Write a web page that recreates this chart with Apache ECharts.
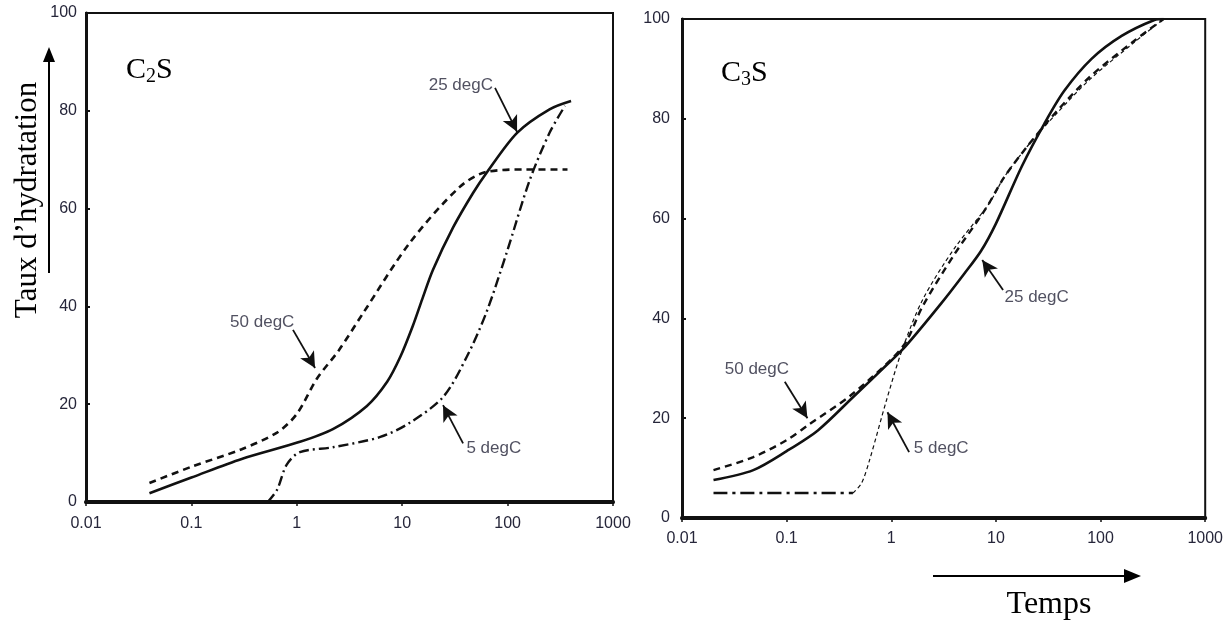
<!DOCTYPE html>
<html>
<head>
<meta charset="utf-8">
<script src="https://cdn.jsdelivr.net/npm/echarts@6/dist/echarts.min.js"></script>
<style>
html,body{margin:0;padding:0;background:#fff;}
#chart{width:1226px;height:623px;}
</style>
</head>
<body>
<div id="chart"></div>
<script>
// ---------- DATA ----------
var xTickLabels = ['0.01','0.1','1','10','100','1000'];
var yTickLabels = ['0','20','40','60','80','100'];

// C2S panel  [time, hydration %]
var c2s25 = [[0.04,1.8],[0.1,5],[0.3,8.8],[1.07,12.3],[2.2,14.9],[4.6,19.6],[7.2,24.6],[9.6,29.7],[12.6,36],[15.5,41.5],[19.6,47.5],[30.5,56.2],[47,63.2],[63,67.3],[123,75.5],[250,80.3],[400,82]];
var c2s50 = [[0.04,3.9],[0.1,7.2],[0.3,10.8],[0.65,14.2],[1,18],[1.55,25.2],[2.5,31],[4.25,38.6],[11.8,53],[35,64.4],[63,67.5],[150,68],[370,68]];
var c2s5  = [[0.53,0],[0.65,2.5],[0.8,7.6],[1.07,10.2],[2.2,11.2],[6.2,13.3],[11.8,16.2],[24.5,21.5],[41,29.7],[63,38.8],[98,51],[162,65.8],[250,75.5],[350,81]];

// C3S panel
var c3s25 = [[0.02,7.6],[0.048,9.6],[0.1,13.4],[0.2,17.6],[0.43,24.2],[0.96,31.2],[1.38,34.5],[3,43],[5,49],[7.2,53.5],[10,59],[17.7,70.5],[29,79],[45,85.6],[82,92],[159,96.6],[327,99.8],[400,100]];
var c3s50 = [[0.02,9.6],[0.048,12.2],[0.1,15.6],[0.16,18.6],[0.4,24.4],[1,31.8],[1.4,35.5],[2,42.5],[4,52.8],[8,62],[12,68.3],[20,74.5],[37,81.2],[80,88.5],[215,95.8],[400,100]];
var c3s5Flat = [[0.02,5],[0.43,5]];
var c3s5Rise = [[0.43,5],[0.52,7],[0.62,11.6],[0.9,23.6],[1.27,33.7],[2,43.8],[4,54],[8.6,63],[12,68.3],[20,74.5],[37,80.8],[80,88],[215,95.5],[400,100]];

// annotations: label, text position, arrow start, arrow end
var c2sNotes = [
  {label:'25 degC', text:[36,85.3], from:[76,84.7], to:[123,75.7]},
  {label:'50 degC', text:[0.47,36.8], from:[0.92,35.2], to:[1.49,27.4]},
  {label:'5 degC', text:[74,11], from:[37.8,12], to:[24.4,19.8]}
];
var c3sNotes = [
  {label:'25 degC', text:[24.5,44.3], from:[11.7,45.7], to:[7.4,51.7]},
  {label:'50 degC', text:[0.052,29.7], from:[0.096,27.3], to:[0.158,20]},
  {label:'5 degC', text:[3.0,14], from:[1.48,13.2], to:[0.92,21.2]}
];

// ---------- CHART ----------
var NARROW = '"Liberation Sans Narrow","Arial Narrow","Liberation Sans",sans-serif';
var SERIF = '"Liberation Serif","Times New Roman",serif';
var chart = echarts.init(document.getElementById('chart'));

function xAxisFor(gi, labelMargin){
  return {
    type:'log', logBase:10, min:0.01, max:1000, gridIndex:gi,
    axisLine:{show:true, onZero:false, lineStyle:{color:'#111', width:3}},
    axisTick:{show:true, inside:false, length:4, lineStyle:{color:'#111', width:1.5}},
    splitLine:{show:false}, minorTick:{show:false},
    axisLabel:{color:'#26263a', fontFamily:NARROW, fontSize:16, margin:labelMargin,
      formatter:function(v){ var i=Math.round(Math.log10(v))+2; return xTickLabels[i]!==undefined?xTickLabels[i]:''; }}
  };
}
function topAxisFor(gi){
  return {
    type:'value', gridIndex:gi, position:'top', min:0, max:1,
    axisLine:{show:true, lineStyle:{color:'#111', width:4}},
    axisTick:{show:false}, axisLabel:{show:false}, splitLine:{show:false}
  };
}
function yAxisFor(gi, labelMargin){
  return {
    type:'value', min:0, max:100, interval:20, gridIndex:gi,
    axisLine:{show:true, lineStyle:{color:'#111', width:3}},
    axisTick:{show:true, inside:true, length:4, lineStyle:{color:'#111', width:2}},
    splitLine:{show:false},
    axisLabel:{color:'#26263a', fontFamily:NARROW, fontSize:16, margin:labelMargin,
      formatter:function(v){ return yTickLabels[Math.round(v/20)]; }}
  };
}
function curve(data, xi, yi, type, width){
  return {
    type:'line', data:data, xAxisIndex:xi, yAxisIndex:yi, symbol:'none',
    smooth:0.3,
    lineStyle:{color:'#111', width:width, type:type}, silent:true, z:3
  };
}
function notes(list, xi, yi){
  return [{
    type:'scatter', xAxisIndex:xi, yAxisIndex:yi, symbolSize:0, silent:true,
    data:list.map(function(n){ return {value:n.text, name:n.label}; }),
    label:{show:true, position:'inside', formatter:'{b}', color:'#26263a', fontFamily:NARROW, fontSize:17},
    markLine:{
      silent:true, symbol:['none','arrow'], symbolSize:[12,16],
      lineStyle:{color:'#111', width:1.8, type:'solid'}, label:{show:false},
      data:list.map(function(n){ return [{coord:n.from},{coord:n.to}]; })
    }
  }];
}

var option = {
  animation:false,
  backgroundColor:'#fff',
  grid:[
    {left:86, top:13, width:527, height:489, show:true, borderColor:'#111', borderWidth:2},
    {left:682, top:19, width:525, height:499, show:true, borderColor:'#111', borderWidth:2}
  ],
  xAxis:[xAxisFor(0,14), xAxisFor(1,13), topAxisFor(0), topAxisFor(1)],
  yAxis:[yAxisFor(0,9), yAxisFor(1,12)],
  series:[].concat(
    [curve(c2s25,0,0,'solid',2.6),
     curve(c2s50,0,0,[7,5],2.6),
     curve(c2s5,0,0,[10,4,2,4],2.4),
     curve(c3s25,1,1,'solid',2.6),
     curve(c3s50,1,1,[7,5],2.4),
     curve(c3s5Flat,1,1,[14,5,3,5],2.6),
     curve(c3s5Rise,1,1,[4,3],1.2)],
    notes(c2sNotes,0,0),
    notes(c3sNotes,1,1)
  ),
  graphic:[
    {type:'text', left:126, top:55, style:{text:'{a|C}{b|2}{a|S}', rich:{
      a:{fontFamily:SERIF, fontSize:30, fill:'#000'},
      b:{fontFamily:SERIF, fontSize:20, fill:'#000', padding:[14,0,0,0]}}}},
    {type:'text', left:721, top:58, style:{text:'{a|C}{b|3}{a|S}', rich:{
      a:{fontFamily:SERIF, fontSize:30, fill:'#000'},
      b:{fontFamily:SERIF, fontSize:20, fill:'#000', padding:[14,0,0,0]}}}},
    {type:'text', x:28, y:200, rotation:Math.PI/2, style:{text:'Taux d\u2019hydratation', fontFamily:SERIF, fontSize:31, fill:'#000', align:'center', verticalAlign:'middle'}},
    {type:'line', shape:{x1:49, y1:273, x2:49, y2:60}, style:{stroke:'#000', lineWidth:2}},
    {type:'polygon', shape:{points:[[43,62],[55,62],[49,47]]}, style:{fill:'#000'}},
    {type:'text', x:1049, y:605, style:{text:'Temps', fontFamily:SERIF, fontSize:32, fill:'#000', align:'center', verticalAlign:'middle'}},
    {type:'line', shape:{x1:933, y1:576, x2:1126, y2:576}, style:{stroke:'#000', lineWidth:2}},
    {type:'polygon', shape:{points:[[1124,569],[1124,583],[1141,576]]}, style:{fill:'#000'}}
  ]
};
chart.setOption(option);
</script>
</body>
</html>
